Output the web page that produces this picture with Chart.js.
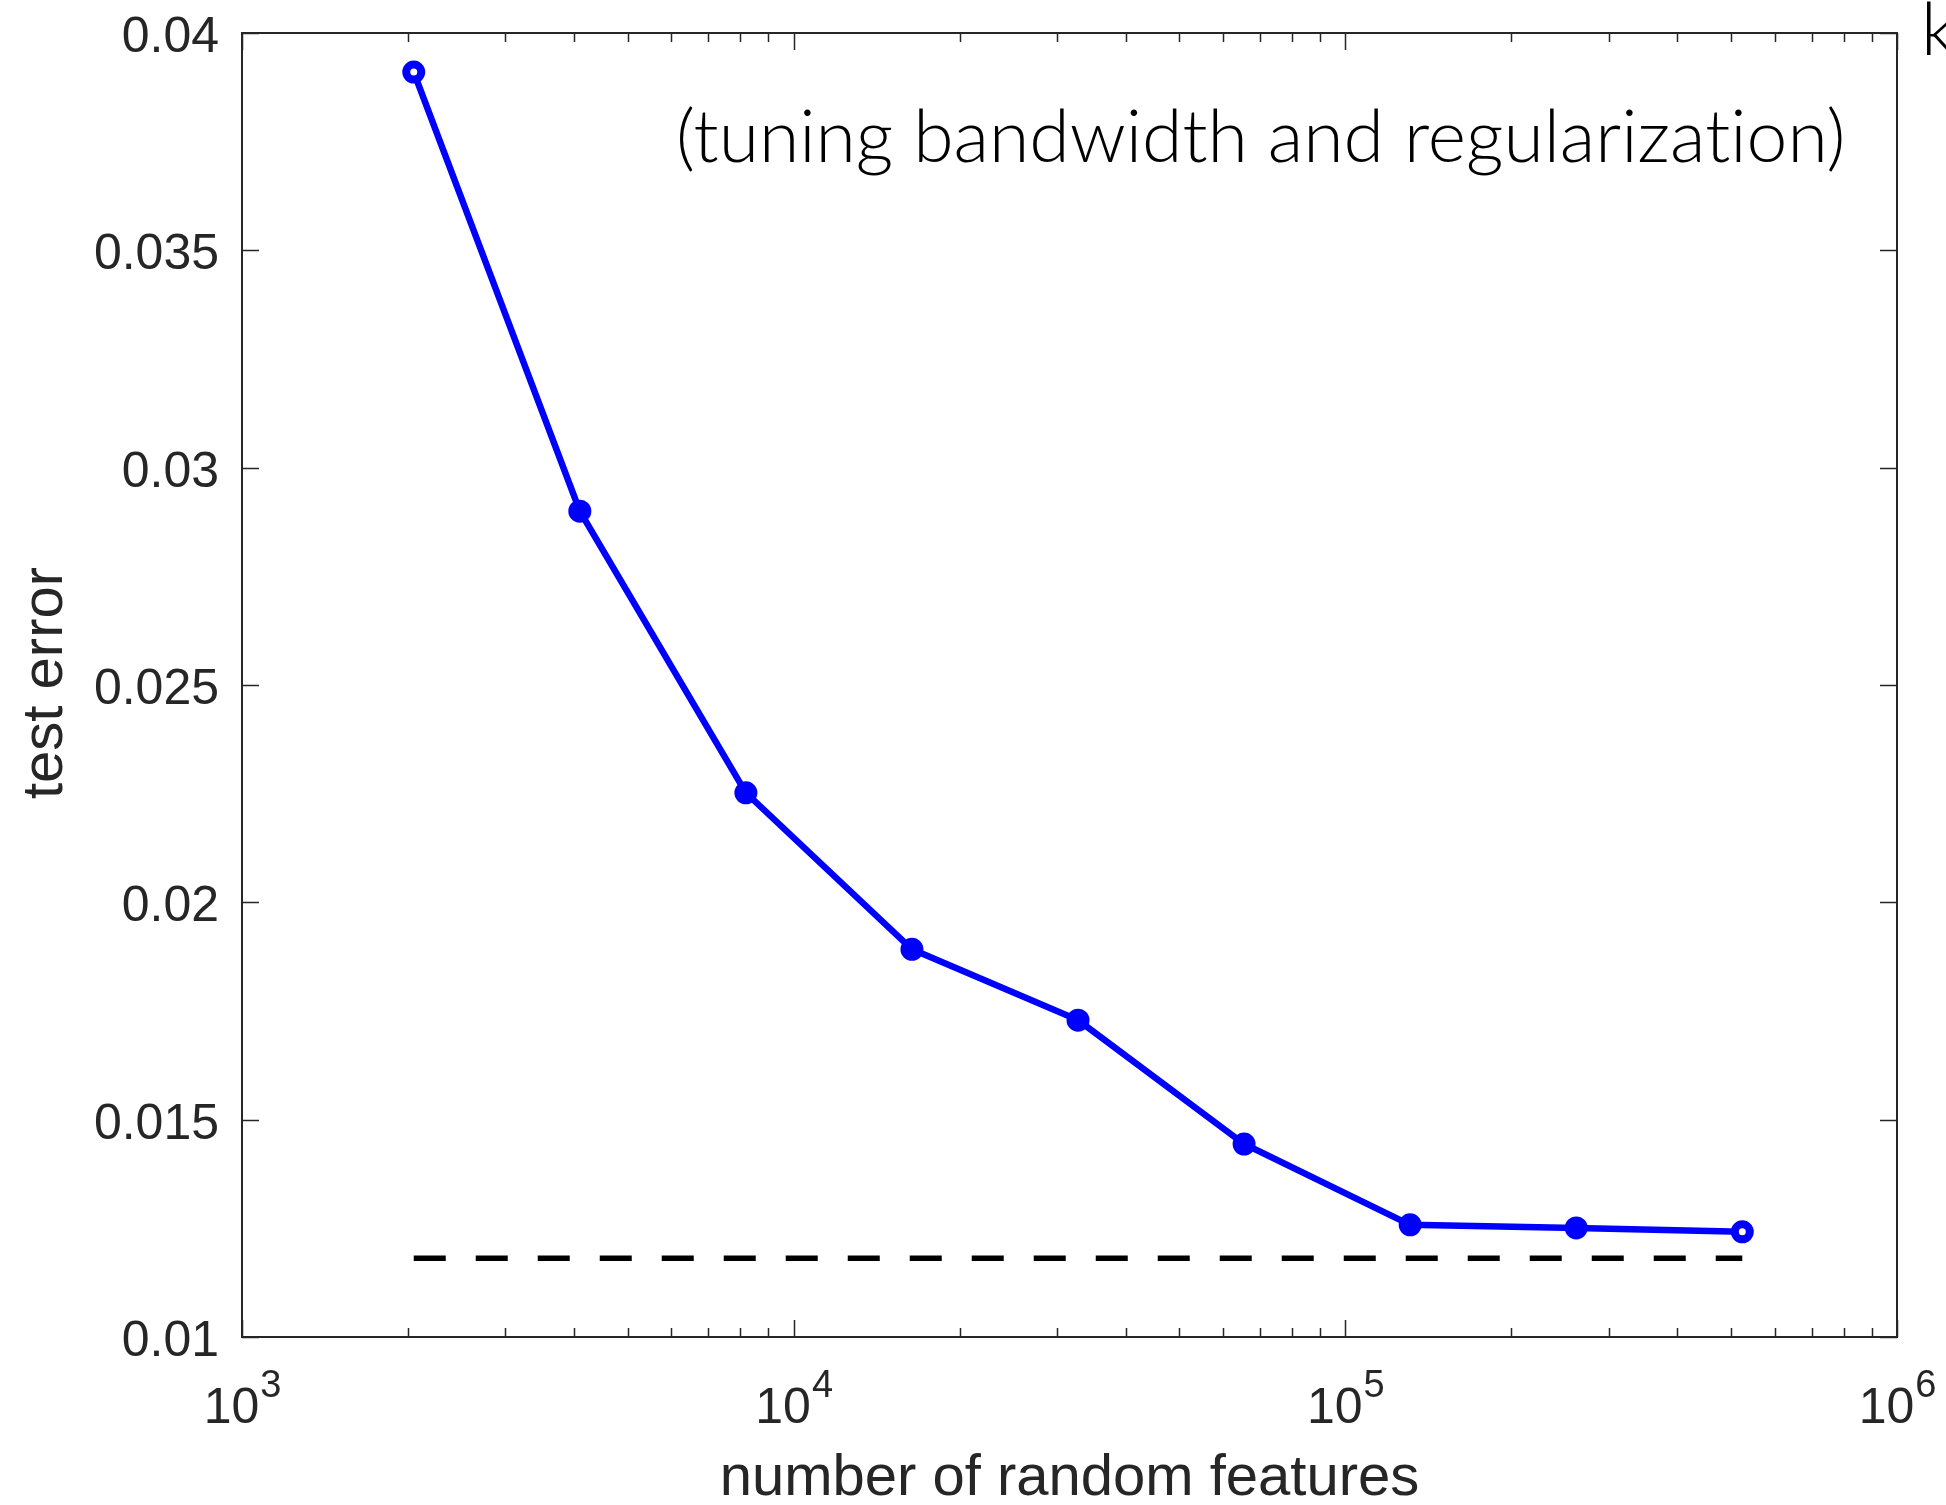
<!DOCTYPE html>
<html>
<head>
<meta charset="utf-8">
<title>test error vs number of random features</title>
<script src="https://cdn.jsdelivr.net/npm/chart.js@4.4.1/dist/chart.umd.min.js"></script>
<style>
    html, body { margin: 0; padding: 0; background: #ffffff; }
    #chart { display: block; }
</style>
</head>
<body>
<canvas id="chart" width="1946" height="1505"></canvas>
<script>
// number of random features (x) and test error (y)
const features = [2048, 4096, 8192, 16384, 32768, 65536, 131072, 262144, 524288];
const testError = [0.0391, 0.0290, 0.02252, 0.01892, 0.01729, 0.01444, 0.01258, 0.01251, 0.01242];

// dashed reference level
const refFeatures = [2048, 524288];
const refError = [0.01181, 0.01181];

// axis ticks
const yTicks = [0.01, 0.015, 0.02, 0.025, 0.03, 0.035, 0.04];
const yTickLabels = ["0.01", "0.015", "0.02", "0.025", "0.03", "0.035", "0.04"];
const xMajorTicks = [1e3, 1e4, 1e5, 1e6];
const xTickExponents = ["3", "4", "5", "6"];

const xTitle = "number of random features";
const yTitle = "test error";
// zero-width non-joiner keeps "ti" from turning into a ligature
const note = "(tuning bandwidth and regularizat\u200Cion)";

const axisColor = "#262626";
const tickFont = "Liberation Sans, Arial, Helvetica, sans-serif";

function toPoints(xs, ys) {
    return xs.map((x, i) => ({ x: x, y: ys[i] }));
}

const starRadius = features.map((f, i) => (i === 0 || i === features.length - 1) ? 0 : 8);

const matlabAxes = {
    id: "matlabAxes",
    afterDraw(chart) {
        const ctx = chart.ctx;
        const area = chart.chartArea;
        const xs = chart.scales.x;
        const ys = chart.scales.y;
        ctx.save();

        // box
        ctx.strokeStyle = axisColor;
        ctx.lineWidth = 2;
        ctx.strokeRect(area.left, area.top, area.right - area.left, area.bottom - area.top);

        // y ticks, both sides
        ctx.beginPath();
        yTicks.forEach(v => {
            const py = Math.round(ys.getPixelForValue(v)) + 0.5;
            ctx.moveTo(area.left, py); ctx.lineTo(area.left + 17, py);
            ctx.moveTo(area.right, py); ctx.lineTo(area.right - 17, py);
        });
        // x major and minor ticks, top and bottom
        for (let k = 3; k < 6; k++) {
            for (let m = 1; m <= 10; m++) {
                const v = m * Math.pow(10, k);
                const px = Math.round(xs.getPixelForValue(v)) + 0.5;
                const len = (m === 1 || m === 10) ? 17 : 9;
                ctx.moveTo(px, area.bottom); ctx.lineTo(px, area.bottom - len);
                ctx.moveTo(px, area.top); ctx.lineTo(px, area.top + len);
            }
        }
        ctx.lineWidth = 1.5;
        ctx.stroke();

        // y tick labels
        ctx.fillStyle = axisColor;
        ctx.font = "50px " + tickFont;
        ctx.textAlign = "right";
        ctx.textBaseline = "alphabetic";
        yTicks.forEach((v, i) => {
            ctx.fillText(yTickLabels[i], area.left - 23, ys.getPixelForValue(v) + 19);
        });

        // x tick labels 10^k
        xMajorTicks.forEach((v, i) => {
            const px = xs.getPixelForValue(v);
            ctx.font = "50px " + tickFont;
            const baseW = ctx.measureText("10").width;
            ctx.font = "38px " + tickFont;
            const supW = ctx.measureText(xTickExponents[i]).width;
            const left = px - (baseW + supW) / 2;
            ctx.textAlign = "left";
            ctx.font = "50px " + tickFont;
            ctx.fillText("10", left, area.bottom + 86);
            ctx.font = "38px " + tickFont;
            ctx.fillText(xTickExponents[i], left + baseW + 1, area.bottom + 60);
        });

        // axis titles
        ctx.font = "58px " + tickFont;
        ctx.textAlign = "center";
        ctx.fillText(xTitle, (area.left + area.right) / 2, 1495);
        ctx.save();
        ctx.translate(62, (area.top + area.bottom) / 2 - 2);
        ctx.rotate(-Math.PI / 2);
        ctx.fillText(yTitle, 0, 0);
        ctx.restore();

        // annotation
        ctx.fillStyle = "#000000";
        ctx.textAlign = "left";
        let size = 70;
        ctx.font = "300 " + size + "px Lato, 'Open Sans', sans-serif";
        size = size * 1169 / ctx.measureText(note).width;
        ctx.font = "300 " + size.toFixed(1) + "px Lato, 'Open Sans', sans-serif";
        ctx.fillText(note, 676, 162);
        ctx.fillText("k", 1921, 55);

        ctx.restore();
    }
};

new Chart(document.getElementById("chart").getContext("2d"), {
    type: "line",
    data: {
        datasets: [
            {
                label: "test error",
                data: toPoints(features, testError),
                order: 2,
                borderColor: "#0000ff",
                backgroundColor: "#ffffff",
                borderWidth: 6.5,
                pointStyle: "circle",
                pointRadius: 7.5,
                pointBorderWidth: 8,
                pointBorderColor: "#0000ff",
                pointBackgroundColor: "#ffffff",
                tension: 0
            },
            {
                label: "test error markers",
                data: toPoints(features, testError),
                order: 1,
                showLine: false,
                pointStyle: "star",
                pointRadius: starRadius,
                pointBorderWidth: 3,
                pointBorderColor: "#0000ff",
                pointBackgroundColor: "#0000ff"
            },
            {
                label: "reference",
                data: toPoints(refFeatures, refError),
                order: 3,
                borderColor: "#000000",
                borderWidth: 5.5,
                borderDash: [32, 30],
                pointRadius: 0,
                tension: 0
            }
        ]
    },
    options: {
        responsive: false,
        animation: false,
        devicePixelRatio: 1,
        layout: { padding: { left: 242, top: 33, right: 49, bottom: 168 } },
        plugins: {
            legend: { display: false },
            tooltip: { enabled: false }
        },
        scales: {
            x: { type: "logarithmic", min: 1e3, max: 1e6, display: false },
            y: { type: "linear", min: 0.01, max: 0.04, display: false }
        }
    },
    plugins: [matlabAxes]
});
</script>
</body>
</html>
